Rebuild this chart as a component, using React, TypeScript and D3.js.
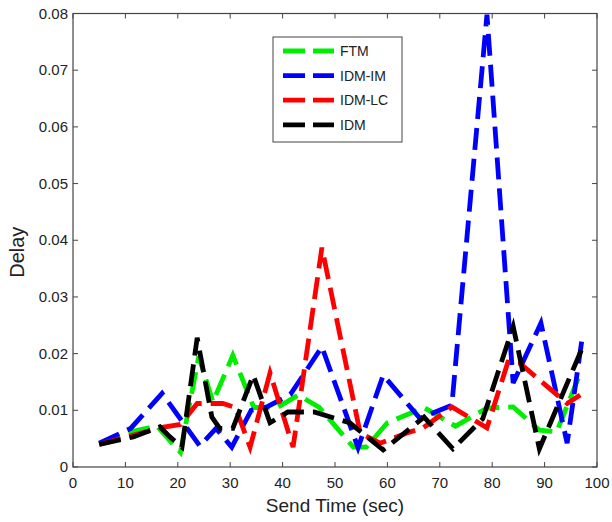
import React from "react";
import * as d3 from "d3";

const xTicks = [0, 10, 20, 30, 40, 50, 60, 70, 80, 90, 100];
const yTicks = [0, 0.01, 0.02, 0.03, 0.04, 0.05, 0.06, 0.07, 0.08];
const seriesNames = ["FTM", "IDM-IM", "IDM-LC", "IDM"];
const seriesColors = ["#00ee00", "#0000ff", "#ff0000", "#000000"];

const ftmT = [5, 11, 16, 20.5, 24, 26.7, 30.5, 34.5, 39, 43, 47, 53.5, 56, 60, 67, 73, 79, 84, 89, 92.3, 97];
const ftmD = [0.0042, 0.0062, 0.0072, 0.0026, 0.0195, 0.0115, 0.0197, 0.0105, 0.0105, 0.0127, 0.0105, 0.0035, 0.0035, 0.0078, 0.0105, 0.0072, 0.0104, 0.0106, 0.0065, 0.0062, 0.017];

const imT = [5, 11, 17, 24.2, 27.3, 30.3, 34, 37, 41.5, 47.5, 54.4, 59.2, 66.2, 72.3, 79, 84, 89.3, 94.3, 97.3];
const imD = [0.0042, 0.0068, 0.013, 0.0037, 0.0068, 0.0035, 0.01, 0.0106, 0.0128, 0.0212, 0.0034, 0.0162, 0.0086, 0.0109, 0.0798, 0.0148, 0.0254, 0.0042, 0.0236];

const lcT = [5, 11, 17, 20.5, 23.7, 28.6, 31, 33.8, 37.6, 42, 47.5, 54.8, 58.6, 63.7, 66.8, 72.3, 79, 83, 85.3, 94.3, 96.8];
const lcD = [0.004, 0.0055, 0.007, 0.0075, 0.0112, 0.0112, 0.0105, 0.0035, 0.0166, 0.0035, 0.0387, 0.006, 0.0042, 0.006, 0.0069, 0.0106, 0.0069, 0.0185, 0.0183, 0.0112, 0.0127];

const idmT = [5, 11.5, 16.6, 18.5, 20.8, 23.7, 26.5, 28, 30.5, 34.4, 37.6, 41, 46, 52.8, 59.2, 67, 72.5, 78.2, 84, 89, 97];
const idmD = [0.004, 0.0053, 0.0071, 0.0053, 0.0035, 0.0228, 0.0088, 0.0068, 0.0068, 0.0162, 0.0078, 0.0097, 0.0097, 0.0078, 0.003, 0.0088, 0.0032, 0.0085, 0.0248, 0.0032, 0.0206];

const seriesT = [ftmT, imT, lcT, idmT];
const seriesD = [ftmD, imD, lcD, idmD];

const L = 73, R = 597, T = 13.5, B = 467;
const font = "'Liberation Sans', Arial, Helvetica, sans-serif";
const axisColor = "#444";
const textColor = "#222";

export default function App() {
  const x = d3.scaleLinear().domain([0, 100]).range([L, R]);
  const y = d3.scaleLinear().domain([0, 0.08]).range([B, T]);
  const line = d3.line<[number, number]>().x((d) => x(d[0])).y((d) => y(d[1]));

  return (
    <svg width={612} height={522} style={{ position: "absolute", left: 0, top: 0, background: "#fff" }}>
      <defs>
        <clipPath id="plot">
          <rect x={L} y={T - 2} width={R - L} height={B - T + 2} />
        </clipPath>
      </defs>
      <g clipPath="url(#plot)">
        {seriesT.map((ts, i) => (
          <path
            key={i}
            d={line(ts.map((t, j) => [t, seriesD[i][j]] as [number, number])) || ""}
            fill="none"
            stroke={seriesColors[i]}
            strokeWidth={4.8}
            strokeDasharray="22 9"
            strokeLinejoin="miter"
          />
        ))}
      </g>
      <rect x={L} y={T} width={R - L} height={B - T} fill="none" stroke={axisColor} strokeWidth={1.2} />
      {xTicks.map((t) => (
        <g key={"x" + t}>
          <line x1={x(t)} x2={x(t)} y1={B} y2={B - 5} stroke={axisColor} strokeWidth={1} />
          <line x1={x(t)} x2={x(t)} y1={T} y2={T + 5} stroke={axisColor} strokeWidth={1} />
          <text x={x(t)} y={B + 21} textAnchor="middle" fontFamily={font} fontSize={15} fill={textColor}>
            {t}
          </text>
        </g>
      ))}
      {yTicks.map((t) => (
        <g key={"y" + t}>
          <line x1={L} x2={L + 5} y1={y(t)} y2={y(t)} stroke={axisColor} strokeWidth={1} />
          <line x1={R} x2={R - 5} y1={y(t)} y2={y(t)} stroke={axisColor} strokeWidth={1} />
          <text x={L - 5} y={y(t) + 5} textAnchor="end" fontFamily={font} fontSize={15} fill={textColor}>
            {t === 0 ? "0" : t.toFixed(2)}
          </text>
        </g>
      ))}
      <text x={(L + R) / 2} y={512} textAnchor="middle" fontFamily={font} fontSize={19} fill={textColor}>
        Send Time (sec)
      </text>
      <text
        transform={`translate(24, ${(T + B) / 2 + 12}) rotate(-90)`}
        textAnchor="middle"
        fontFamily={font}
        fontSize={20}
        fill={textColor}
      >
        Delay
      </text>
      <rect x={273} y={37} width={129} height={105} fill="#fff" stroke={axisColor} strokeWidth={1} />
      {seriesNames.map((n, i) => (
        <g key={n}>
          <line
            x1={283}
            x2={334}
            y1={51 + i * 24.6}
            y2={51 + i * 24.6}
            stroke={seriesColors[i]}
            strokeWidth={4.8}
            strokeDasharray="22 8"
          />
          <text x={340} y={51 + i * 24.6 + 5} fontFamily={font} fontSize={14} fill={textColor}>
            {n}
          </text>
        </g>
      ))}
    </svg>
  );
}
